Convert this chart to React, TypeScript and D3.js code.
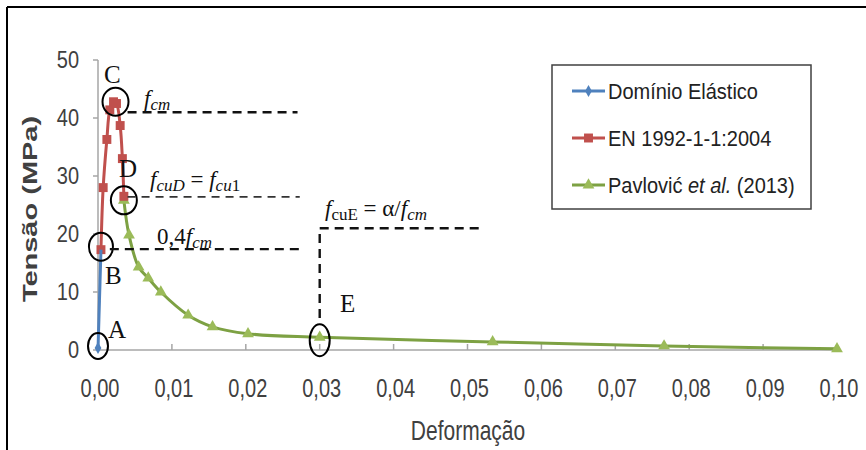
import React from "react";
import * as d3 from "d3";

// strain (–) and stress (MPa)
const elasticStrain = [0, 0.0004];
const elasticStress = [0, 17.3];

const ecStrain = [0.0004, 0.0007, 0.0012, 0.0016, 0.0021, 0.0025, 0.003, 0.0033, 0.0035];
const ecStress = [17.3, 28, 36.3, 41.4, 42.8, 42.5, 38.7, 33, 26.5];

const pavStrain = [0.0035, 0.0042, 0.0055, 0.0068, 0.0085, 0.0122, 0.0155, 0.0203, 0.03, 0.0534, 0.0766, 0.1];
const pavStress = [25.8, 19.8, 14.3, 12.4, 10, 6, 4, 2.8, 2.2, 1.4, 0.7, 0.2];

const xTicks = [0, 0.01, 0.02, 0.03, 0.04, 0.05, 0.06, 0.07, 0.08, 0.09, 0.1];
const yTicks = [0, 10, 20, 30, 40, 50];

const seriesNames = ["Domínio Elástico", "EN 1992-1-1:2004", "Pavlović et al. (2013)"];

// reference levels of the annotations (MPa)
const fcmLevel = 41;
const fcuDLevel = 26.4;
const lowLevel = 17.4;
const fcuELevel = 21;

const W = 866;
const H = 450;
const BLUE = "#4F81BD";
const RED = "#C0504D";
const GREEN_LINE = "#7DA143";
const GREEN = "#9BBB59";
const SANS = "'Liberation Sans', Arial, sans-serif";
const SERIF = "'Liberation Serif', 'Times New Roman', serif";

const x = d3.scaleLinear().domain([0, 0.1]).range([98, 837]);
const y = d3.scaleLinear().domain([0, 50]).range([350, 60]);

const zip = (a: number[], b: number[]) => a.map((v, i) => [v, b[i]] as [number, number]);

const straight = d3
  .line<[number, number]>()
  .x((d) => x(d[0]))
  .y((d) => y(d[1]));
const smooth = straight.curve(d3.curveCatmullRom.alpha(0.5));

const diamond = d3.symbol(d3.symbolDiamond, 40)();
const square = d3.symbol(d3.symbolSquare, 80)();
const triangle = d3.symbol(d3.symbolTriangle, 60)();

const fmt = (v: number) => v.toFixed(2).replace(".", ",");

// the source picture is stretched vertically, so the sans labels are too
const Label = ({ x0, y0, sy = 1.3, anchor = "start", size = 20, children, ...rest }: any) => (
  <text
    transform={`translate(${x0},${y0}) scale(1,${sy})`}
    textAnchor={anchor}
    fontFamily={SANS}
    fontSize={size}
    fill="#404040"
    {...rest}
  >
    {children}
  </text>
);

export default function App() {
  const blue = zip(elasticStrain, elasticStress);
  const red = zip(ecStrain, ecStress);
  const green = zip(pavStrain, pavStress);
  const peak = red[d3.maxIndex(red, (d) => d[1])];
  const ptE = green[pavStrain.indexOf(0.03)];

  const dash = { stroke: "#111", strokeWidth: 2.4, strokeDasharray: "9 6", fill: "none" };
  const dashThin = { stroke: "#333", strokeWidth: 1.6, strokeDasharray: "8 6", fill: "none" };
  const ring = { stroke: "#000", strokeWidth: 2, fill: "none" };
  const letter = { fontFamily: SERIF, fontSize: 25, fill: "#111" };
  const math = { fontFamily: SERIF, fontSize: 23, fill: "#111" };

  return (
    <svg width={W} height={H} style={{ position: "absolute", left: 0, top: 0, background: "#fff" }}>
      <line x1={7} y1={7} x2={W} y2={7} stroke="#000" strokeWidth={2} />
      <line x1={7} y1={7} x2={7} y2={H} stroke="#000" strokeWidth={2} />

      {/* axes */}
      <line x1={x(0)} y1={y(50)} x2={x(0)} y2={y(0)} stroke="#a6a6a6" strokeWidth={1.5} />
      <line x1={x(0)} y1={y(0)} x2={x(0.1)} y2={y(0)} stroke="#a6a6a6" strokeWidth={1.5} />
      {yTicks.map((t) => (
        <g key={t}>
          <line x1={x(0) - 5} x2={x(0)} y1={y(t)} y2={y(t)} stroke="#a6a6a6" strokeWidth={1.5} />
          <Label x0={79} y0={y(t) + 8} anchor="end" sy={1.2}>
            {t}
          </Label>
        </g>
      ))}
      {xTicks.map((t) => (
        <g key={t}>
          <line x1={x(t)} x2={x(t)} y1={y(0)} y2={y(0) - 6} stroke="#a6a6a6" strokeWidth={1.5} />
          <Label x0={x(t) + 2} y0={397} anchor="middle">
            {fmt(t)}
          </Label>
        </g>
      ))}
      <Label x0={468} y0={440} anchor="middle" size={21} sy={1.33}>
        Deformação
      </Label>
      <text
        transform={`translate(37,209) rotate(-90) scale(1.45,1)`}
        textAnchor="middle"
        fontFamily={SANS}
        fontSize={20}
        fontWeight="bold"
        fill="#404040"
      >
        Tensão (MPa)
      </text>

      {/* series */}
      <path d={smooth(green) ?? ""} stroke={GREEN_LINE} strokeWidth={3} fill="none" />
      {green.map((d, i) => (
        <path key={i} d={triangle ?? ""} transform={`translate(${x(d[0])},${y(d[1])})`} fill={GREEN} />
      ))}
      <path d={straight(red) ?? ""} stroke={RED} strokeWidth={3} fill="none" />
      {red.map((d, i) => (
        <path key={i} d={square ?? ""} transform={`translate(${x(d[0])},${y(d[1])})`} fill={RED} />
      ))}
      <path d={straight(blue) ?? ""} stroke={BLUE} strokeWidth={3} fill="none" />
      <path d={diamond ?? ""} transform={`translate(${x(blue[0][0])},${y(blue[0][1]) - 2})`} fill={BLUE} />

      {/* annotations */}
      <ellipse cx={x(0)} cy={y(0) - 4} rx={10} ry={13} {...ring} />
      <ellipse cx={x(red[0][0])} cy={y(red[0][1]) - 3} rx={12} ry={14} {...ring} />
      <ellipse cx={x(peak[0]) + 2} cy={y(peak[1])} rx={13} ry={14} {...ring} />
      <ellipse cx={x(ecStrain[ecStrain.length - 1])} cy={y(ecStress[ecStress.length - 1]) + 4} rx={13} ry={14} {...ring} />
      <ellipse cx={x(ptE[0])} cy={y(ptE[1]) + 3} rx={10} ry={16} {...ring} />

      <text x={108} y={338} {...letter}>A</text>
      <text x={105} y={284} {...letter}>B</text>
      <text x={104} y={83} {...letter}>C</text>
      <text x={119} y={177} {...letter}>D</text>
      <text x={340} y={312} {...letter}>E</text>

      <line x1={x(0.004)} x2={x(0.027)} y1={y(fcmLevel)} y2={y(fcmLevel)} {...dash} />
      <line x1={x(0.004)} x2={x(0.0273)} y1={y(fcuDLevel)} y2={y(fcuDLevel)} {...dashThin} />
      <line x1={x(0.0016)} x2={x(0.0273)} y1={y(lowLevel)} y2={y(lowLevel)} {...dash} />
      <line x1={x(0.03)} x2={x(0.03)} y1={y(5.5)} y2={y(fcuELevel)} {...dash} />
      <line x1={x(0.03)} x2={x(0.0523)} y1={y(fcuELevel)} y2={y(fcuELevel)} {...dash} />

      <text x={144} y={106} {...math}>
        <tspan fontStyle="italic">f</tspan>
        <tspan fontStyle="italic" fontSize={17} dy={4}>cm</tspan>
      </text>
      <text x={150} y={187} {...math}>
        <tspan fontStyle="italic">f</tspan>
        <tspan fontStyle="italic" fontSize={17} dy={4}>cuD</tspan>
        <tspan dy={-4}> = </tspan>
        <tspan fontStyle="italic">f</tspan>
        <tspan fontStyle="italic" fontSize={17} dy={4}>cu</tspan>
        <tspan fontSize={17}>1</tspan>
      </text>
      <text x={157} y={244} {...math}>
        0,4
        <tspan fontStyle="italic">f</tspan>
        <tspan fontStyle="italic" fontSize={17} dy={4}>cm</tspan>
      </text>
      <text x={325} y={216} {...math}>
        <tspan fontStyle="italic">f</tspan>
        <tspan fontSize={17} dy={4}>cuE</tspan>
        <tspan dy={-4}> = α/</tspan>
        <tspan fontStyle="italic">f</tspan>
        <tspan fontStyle="italic" fontSize={17} dy={4}>cm</tspan>
      </text>

      {/* legend */}
      <rect x={552} y={65} width={259} height={144} fill="#fff" stroke="#404040" strokeWidth={1.5} />
      {seriesNames.map((name, i) => {
        const cy = 91 + i * 47;
        const color = [BLUE, RED, GREEN_LINE][i];
        const mark = [diamond, square, triangle][i];
        return (
          <g key={name}>
            <line x1={572} x2={605} y1={cy} y2={cy} stroke={color} strokeWidth={3} />
            <path d={mark ?? ""} transform={`translate(588.5,${cy})`} fill={[BLUE, RED, GREEN][i]} />
            <Label x0={608} y0={cy + 8} size={20} sy={1.12} fill="#222">
              {i === 2 ? (
                <>
                  Pavlović <tspan fontStyle="italic">et al.</tspan> (2013)
                </>
              ) : (
                name
              )}
            </Label>
          </g>
        );
      })}
    </svg>
  );
}
